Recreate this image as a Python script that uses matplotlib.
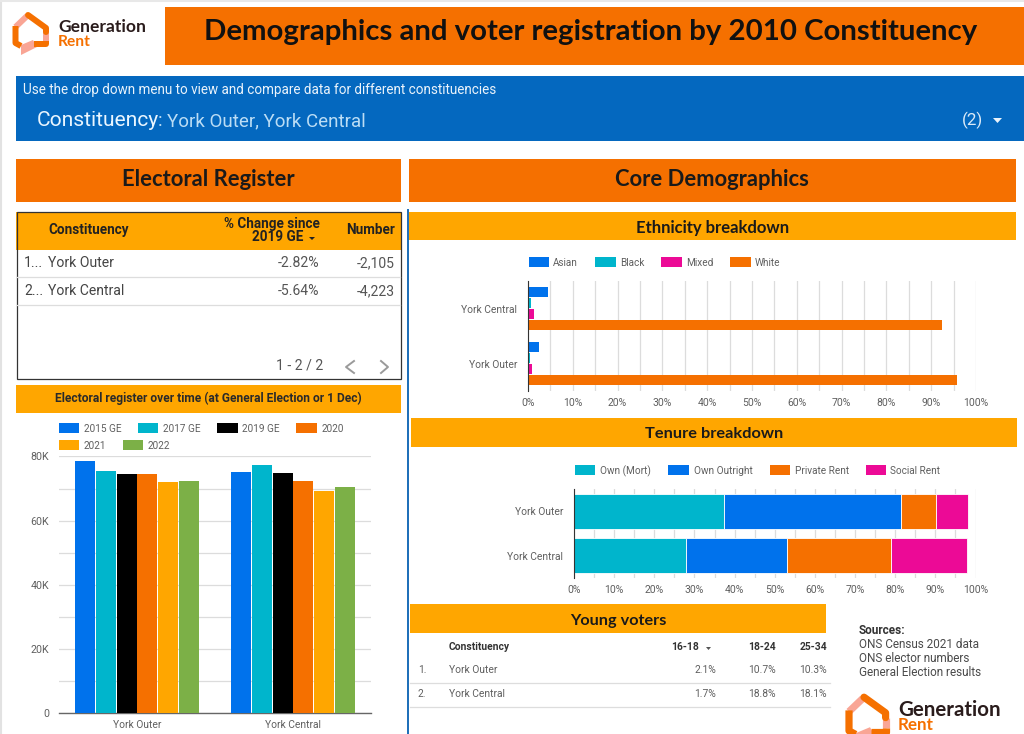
import matplotlib
matplotlib.use("Agg")
import matplotlib.pyplot as plt
from matplotlib.patches import Rectangle, Polygon
import numpy as np

# ---------- data ----------
constituencies_time = ["York Outer", "York Central"]
years = ["2015 GE", "2017 GE", "2019 GE", "2020", "2021", "2022"]
york_outer_register = [78500, 75600, 74600, 74400, 71900, 72400]
york_central_register = [75300, 77200, 74800, 72400, 69300, 70500]

ethnicity_groups = ["Asian", "Black", "Mixed", "White"]
ethnicity_constituencies = ["York Central", "York Outer"]
ethnicity_central = [4.4, 0.7, 1.4, 92.4]
ethnicity_outer = [2.4, 0.4, 0.9, 95.7]

tenure_groups = ["Own (Mort)", "Own Outright", "Private Rent", "Social Rent"]
tenure_constituencies = ["York Outer", "York Central"]
tenure_outer = [37.4, 44.1, 8.7, 8.0]
tenure_central = [27.8, 25.3, 25.9, 18.8]

register_rows = [("1...", "York Outer", "-2.82%", "-2,105"),
                 ("2...", "York Central", "-5.64%", "-4,223")]
young_rows = [("1.", "York Outer", "2.1%", "10.7%", "10.3%"),
              ("2.", "York Central", "1.7%", "18.8%", "18.1%")]
sources = ["ONS Census 2021 data", "ONS elector numbers", "General Election results"]

# ---------- style ----------
W, H = 1024, 734
BLUE, TEAL, BLACK, ORANGE, AMBER, GREEN, PINK = ("#0072EC", "#00B5CC", "#000000", "#F57000",
                                                 "#FFA600", "#7CB047", "#EC0A96")
HEAD = ["Lato"]
TICK = "#5f5f5f"
LOGO_PINK = "#F9A595"
plt.rcParams["font.family"] = "Roboto"

def fs(px):
    return px * 0.72

fig = plt.figure(figsize=(W / 100, H / 100), dpi=100, facecolor="white")
bg = fig.add_axes([0, 0, 1, 1])
bg.set_xlim(0, W); bg.set_ylim(H, 0); bg.axis("off")

def box(x0, y0, x1, y1, color, **kw):
    bg.add_patch(Rectangle((x0, y0), x1 - x0, y1 - y0, facecolor=color, edgecolor="none", **kw))

def txt(x, y, s, px, color="#333333", ha="left", weight="normal", family=None):
    bg.text(x, y + 1, s, fontsize=fs(px), color=color, ha=ha, va="center", fontweight=weight,
            family=family or "Roboto")

def chart_axes(x0, y0, x1, y1):
    ax = fig.add_axes([x0 / W, 1 - y1 / H, (x1 - x0) / W, (y1 - y0) / H])
    ax.patch.set_alpha(0)
    return ax

def legend_item(x0, x1, y, tx, label, color):
    box(x0, y - 5, x1, y + 5, color)
    txt(tx, y, label, 10, color="#5f5f5f")

def logo(x, y, s):
    # house-and-speech-bubble mark
    def P(pts):
        return [(x + a * s, y + b * s) for a, b in pts]
    lw = 6.0 * s * 0.72
    def seg(pts, c, cap="butt"):
        bg.plot(*zip(*P(pts)), color=c, lw=lw, solid_capstyle=cap, solid_joinstyle="round")
    seg([(2.5, 15), (14, 4)], LOGO_PINK)
    seg([(2.5, 14), (2.5, 31), (8, 34)], ORANGE)
    seg([(33, 20), (33, 29)], LOGO_PINK)
    seg([(15, 3), (33, 16), (33, 20)], ORANGE, "round")
    bg.add_patch(Polygon(P([(8, 43), (8, 33), (20, 28), (24, 35)]), facecolor=LOGO_PINK, edgecolor="none"))
    seg([(21, 32), (33, 32), (33, 29)], ORANGE)

# frame of the screenshot
bg.plot([0.5, 0.5], [0, H], color="#e2e2e2", lw=1.5)
bg.plot([0, W], [1, 1], color="#e8e8e8", lw=1.5)

# ---------- header ----------
logo(13, 12, 1.0)
txt(58, 26.5, "Generation", 17.5, color="#2a1c1c", weight="bold", family=HEAD)
txt(58, 41, "Rent", 15.5, color=ORANGE, weight="bold", family=HEAD)
box(165, 7, 1024, 65, ORANGE)
txt(591, 31, "Demographics and voter registration by 2010 Constituency", 29.4,
    color="#111111", ha="center", weight="bold", family=HEAD)

box(16, 76, 1024, 141, "#0468BF")
txt(23, 89, "Use the drop down menu to view and compare data for different constituencies", 13.5, color="#EAF3FB")
txt(37, 120, "Constituency", 21, color="#EAF6FF")
txt(158, 120, ":", 19, color="#BBDDF5")
txt(167, 120, "York Outer, York Central", 18.8, color="#BBDDF5")
txt(962, 119, "(2)", 17, color="#DCEBF8")
bg.add_patch(Polygon([(993, 118), (1002, 118), (997.5, 123)], facecolor="#EAF3FB", edgecolor="none"))

box(16, 159, 401, 202, ORANGE)
box(409, 159, 1016, 202, ORANGE)
txt(208, 178, "Electoral Register", 22, color="#1a1a1a", ha="center", weight="bold", family=HEAD)
txt(712, 178, "Core Demographics", 22, color="#1a1a1a", ha="center", weight="bold", family=HEAD)

# ---------- register table ----------
box(16, 212, 401, 250, AMBER)
bg.add_patch(Rectangle((16.5, 211.5), 384, 167, facecolor="none", edgecolor="#333333", lw=0.9))
txt(48, 229, "Constituency", 13.5, color="#222222", weight="bold")
txt(320, 223, "% Change since", 13.5, color="#222222", ha="right", weight="bold")
txt(303, 236, "2019 GE", 13.5, color="#222222", ha="right", weight="bold")
bg.add_patch(Polygon([(309, 237), (315, 237), (312, 240)], facecolor="#222222", edgecolor="none"))
txt(395, 229, "Number", 13.5, color="#222222", ha="right", weight="bold")
for (rank, name, pct, num), y in zip(register_rows, [262, 290]):
    txt(24, y, rank, 14, color="#444444")
    txt(48, y, name, 14, color="#444444")
    txt(319, y, pct, 14, color="#555555", ha="right")
    txt(395, y, num, 14, color="#555555", ha="right")
    bg.plot([17, 400], [y + 15, y + 15], color="#dddddd", lw=0.9)
txt(323, 364, "1 - 2 / 2", 14, color="#555555", ha="right")
bg.plot([354, 346, 354], [361, 367, 373], color="#9a9a9a", lw=1.4)
bg.plot([381, 388, 381], [361, 367, 373], color="#9a9a9a", lw=1.4)

# ---------- register over time ----------
box(16, 385, 401, 413, AMBER)
txt(208, 397, "Electoral register over time (at General Election or 1 Dec)", 12,
    color="#2a2a2a", ha="center", weight="bold")
time_colors = [BLUE, TEAL, BLACK, ORANGE, AMBER, GREEN]
for (x0, x1, tx, y), lab, c in zip([(59, 79, 84, 428), (138, 158, 163, 428), (217, 238, 242, 428),
                                    (296, 317, 322, 428), (59, 79, 84, 445), (123, 143, 148, 445)],
                                   years, time_colors):
    legend_item(x0, x1, y, tx, lab, c)

ax = chart_axes(59, 456.5, 371, 713)
n = len(years)
pos = np.arange(len(constituencies_time))
bw = 0.8 / n
for i, (lab, c) in enumerate(zip(years, time_colors)):
    vals = [york_outer_register[i], york_central_register[i]]
    ax.bar(pos + (i - (n - 1) / 2) * bw, vals, width=bw * 0.97, color=c, zorder=3)
ax.set_xlim(-0.5, 1.5); ax.set_ylim(0, 80000)
ax.set_yticks(np.arange(0, 80001, 20000))
ax.set_yticklabels(["0", "20K", "40K", "60K", "80K"])
ax.set_yticks(np.arange(10000, 80000, 20000), minor=True)
ax.set_xticks(pos); ax.set_xticklabels(constituencies_time)
ax.grid(axis="y", which="both", color="#dcdcdc", lw=0.9, zorder=0)
ax.tick_params(which="both", length=0, labelsize=fs(10.2), labelcolor=TICK)
ax.tick_params(axis="y", pad=7, labelsize=fs(10.6))
ax.tick_params(axis="x", pad=5)
for s in ["top", "right", "left"]:
    ax.spines[s].set_visible(False)
ax.spines["bottom"].set_color("#666666"); ax.spines["bottom"].set_linewidth(1.0)

# divider
bg.plot([408, 408], [210, H], color="#1A6DB8", lw=1.4)

def style_hbar(ax):
    ax.set_xlim(0, 100); ax.set_ylim(1.5, -0.5)
    ax.set_xticks(np.arange(0, 101, 10)); ax.set_xticklabels([f"{v}%" for v in range(0, 101, 10)])
    ax.set_xticks(np.arange(5, 100, 10), minor=True)
    ax.grid(axis="x", which="both", color="#dcdcdc", lw=0.9, zorder=0)
    ax.tick_params(which="both", length=0, labelsize=fs(10.4), labelcolor=TICK)
    ax.tick_params(axis="y", pad=8, labelsize=fs(10.2))
    ax.tick_params(axis="x", pad=5)
    for s in ["top", "right", "bottom"]:
        ax.spines[s].set_visible(False)
    ax.spines["left"].set_color("#333333"); ax.spines["left"].set_linewidth(0.8)
    ax.spines["left"].set_zorder(5)

# ---------- ethnicity ----------
box(409, 212, 1016, 240, AMBER)
txt(713, 227, "Ethnicity breakdown", 16.6, color="#1a1a1a", ha="center", weight="bold", family=HEAD)
eth_colors = [BLUE, TEAL, PINK, ORANGE]
for (x0, x1, tx), lab, c in zip([(528.5, 549, 553), (595, 616, 620), (661, 682, 686), (730, 750.5, 755)],
                                ethnicity_groups, eth_colors):
    legend_item(x0, x1, 262, tx, lab, c)

ax = chart_axes(528, 281, 976, 391)
pos = np.arange(2)
bw = 0.8 / 4
for i, (lab, c) in enumerate(zip(ethnicity_groups, eth_colors)):
    vals = [ethnicity_central[i], ethnicity_outer[i]]
    ax.barh(pos + (i - 1.5) * bw, vals, height=bw * 0.97, color=c, zorder=3)
ax.set_yticks(pos); ax.set_yticklabels(ethnicity_constituencies)
style_hbar(ax)

# ---------- tenure ----------
box(411, 418, 1017, 447, AMBER)
txt(714, 433, "Tenure breakdown", 16.4, color="#1a1a1a", ha="center", weight="bold", family=HEAD)
ten_colors = [TEAL, BLUE, ORANGE, PINK]
for (x0, x1, tx), lab, c in zip([(574.5, 595, 600), (668, 689, 693.5), (769.5, 790, 794.6), (865.5, 885.6, 890)],
                                tenure_groups, ten_colors):
    legend_item(x0, x1, 470, tx, lab, c)

ax = chart_axes(574, 489, 975.5, 578)
pos = np.arange(2)
left = np.zeros(2)
for i, (lab, c) in enumerate(zip(tenure_groups, ten_colors)):
    vals = np.array([tenure_outer[i], tenure_central[i]])
    ax.barh(pos, vals, left=left, height=0.79, color=c, edgecolor="white", linewidth=0.6, zorder=3)
    left += vals
ax.set_yticks(pos); ax.set_yticklabels(tenure_constituencies)
style_hbar(ax)

# ---------- young voters ----------
box(410, 604, 826, 633, AMBER)
txt(618, 620, "Young voters", 16.3, color="#1a1a1a", ha="center", weight="bold", family=HEAD)
txt(449, 646, "Constituency", 10.3, color="#333333", weight="bold")
txt(699, 646, "16-18", 10.3, color="#333333", ha="right", weight="bold")
bg.add_patch(Polygon([(706, 647), (711, 647), (708.5, 650)], facecolor="#555555", edgecolor="none"))
txt(776, 646, "18-24", 10.3, color="#333333", ha="right", weight="bold")
txt(827, 646, "25-34", 10.3, color="#333333", ha="right", weight="bold")
for (rank, name, a, b, c), y in zip(young_rows, [669, 693]):
    txt(418, y, rank, 10.3, color="#5f5f5f")
    txt(449, y, name, 10.3, color="#5f5f5f")
    txt(716, y, a, 10.3, color="#5f5f5f", ha="right")
    txt(776, y, b, 10.3, color="#5f5f5f", ha="right")
    txt(827, y, c, 10.3, color="#5f5f5f", ha="right")
    bg.plot([410, 830], [y + 14, y + 14], color="#dddddd", lw=0.9)

# ---------- sources ----------
txt(859, 629, "Sources:", 11.8, color="#333333", weight="bold")
for s, y in zip(sources, [644, 658, 672]):
    txt(859, y, s, 11.8, color="#4a4a4a")
logo(846, 693.6, 1.2)
txt(898, 708.5, "Generation", 20.5, color="#2a1c1c", weight="bold", family=HEAD)
txt(898, 724.5, "Rent", 17, color=ORANGE, weight="bold", family=HEAD)
bg.set_xlim(0, W); bg.set_ylim(H, 0)

fig.savefig("out.png", dpi=100, facecolor="white")
